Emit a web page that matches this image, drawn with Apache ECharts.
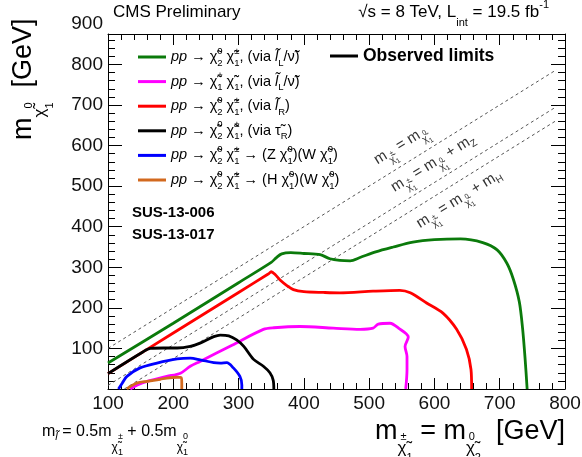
<!DOCTYPE html>
<html><head><meta charset="utf-8">
<script src="https://cdn.jsdelivr.net/npm/echarts@6/dist/echarts.min.js"></script>
<style>html,body{margin:0;padding:0;background:#fff}#c{width:582px;height:457px}</style>
</head><body><div id="c"></div>
<script>
const F = 'Liberation Sans';
const X = 'χ\u0303';

// ---------------- data (GeV) ----------------
const xRange = [100, 800];
const yRange = [0, 875];
const tickInterval = 100;
const extraYTickLabels = [900];

const limitSlepL_N2C1 = [[100,64],[200,162],[300,262],[350,312],[358,324],[366,333],[380,336],[400,334],[425,331],[440,321],[455,317],[471,316],[486,324],[510,338],[537,350],[567,362],[600,368],[640,370],[674,361],[696,343],[711,310],[721,270],[730,215],[735,150],[739,72],[742,0]];
const limitSlepL_C1C1 = [[134,0],[145,10],[160,19],[190,31],[211,39],[226,56],[241,68],[290,108],[338,147],[354,151],[394,154],[445,150],[486,147],[506,150],[514,160],[532,162],[545,150],[560,128],[555,105],[558,80],[558,47],[556,0]];
const limitSlepR_N2C1 = [[100,38],[200,138],[300,238],[346,284],[350,289],[356,282],[364,268],[374,255],[384,245],[400,240],[430,238],[455,237],[506,241],[547,243],[563,237],[588,212],[613,187],[634,147],[649,98],[656,48],[657,0]];
const limitStau_N2C1 = [[100,38],[154,92],[165,100],[185,101],[206,101],[226,105],[241,113],[262,129],[272,133],[285,131],[297,121],[308,105],[323,73],[338,56],[348,40],[353,22],[354,0]];
const limitWZ = [[116,0],[122,15],[129,31],[149,52],[175,64],[206,74],[226,76],[241,72],[262,65],[272,64],[282,65],[292,52],[302,31],[305,10],[305,0]];
const limitWH = [[129,0],[134,6],[145,15],[160,19],[180,24],[190,27],[206,29],[212,28],[213,15],[213,0]];

const diagEqual = [[100,100],[787,787]];
const diagZ = [[100,9],[787,696]];
const diagH = [[125,0],[787,662]];

const seriesNames = ['n2c1_slepL','c1c1_slepL','n2c1_slepR','n2c1_stau','n2c1_WZ','n2c1_WH'];
const seriesColors = ['#0b7a0b','#ff00ff','#ff0000','#000000','#0000ff','#d2691e'];
const seriesData = [limitSlepL_N2C1, limitSlepL_C1C1, limitSlepR_N2C1, limitStau_N2C1, limitWZ, limitWH];
const seriesZ = [6, 3, 4, 5, 3, 3];

const legendLabels = {
  n2c1_slepL: `{i|pp} → ${X}{pz|0}{sb|2} ${X}{pz|±}{sb|1}, (via {i|l\u0303}{sb|L}/ν\u0303)`,
  c1c1_slepL: `{i|pp} → ${X}{pz|+}{sb|1} ${X}{pz|-}{sb|1}, (via {i|l\u0303}{sb|L}/ν\u0303)`,
  n2c1_slepR: `{i|pp} → ${X}{pz|0}{sb|2} ${X}{pz|±}{sb|1}, (via {i|l\u0303}{sb|R})`,
  n2c1_stau:  `{i|pp} → ${X}{pz|0}{sb|2} ${X}{pz|±}{sb|1}, (via τ\u0303{sb|R})`,
  n2c1_WZ:    `{i|pp} → ${X}{pz|0}{sb|2} ${X}{pz|±}{sb|1} → (Z ${X}{pz|0}{sb|1})(W ${X}{pz|0}{sb|1})`,
  n2c1_WH:    `{i|pp} → ${X}{pz|0}{sb|2} ${X}{pz|±}{sb|1} → (H ${X}{pz|0}{sb|1})(W ${X}{pz|0}{sb|1})`
};

// --------------- helpers ---------------
// rich token shifted vertically by d px (positive = down) from the main line centre (line height L)
function off(size, d, L, extra) {
  const s = {fontFamily: F, fontSize: size, lineHeight: L, fill: '#000', color: '#000'};
  if (d <= 0) { s.verticalAlign = 'top'; s.height = L + 2 * d; }
  else { s.verticalAlign = 'bottom'; s.height = L - 2 * d; }
  return Object.assign(s, extra || {});
}

const chart = echarts.init(document.getElementById('c'), null, {renderer: 'canvas'});

function xAxisDef(pos, showLabel) {
  return {
    type: 'value', position: pos, min: xRange[0], max: xRange[1], interval: tickInterval,
    axisLine: {show: true, onZero: false, lineStyle: {color: '#000', width: 1}},
    axisTick: {show: true, inside: true, length: 11, lineStyle: {color: '#000', width: 1}},
    minorTick: {show: true, splitNumber: 5, length: 6, lineStyle: {color: '#000', width: 1}},
    splitLine: {show: false}, minorSplitLine: {show: false},
    axisLabel: {show: showLabel, fontFamily: F, fontSize: 19, color: '#111', margin: 5}
  };
}
function yAxisDef(pos, showLabel) {
  return {
    type: 'value', position: pos, min: yRange[0], max: yRange[1], interval: tickInterval,
    axisLine: {show: true, onZero: false, lineStyle: {color: '#000', width: 1}},
    axisTick: {show: true, inside: true, length: 14, lineStyle: {color: '#000', width: 1}},
    minorTick: {show: true, splitNumber: 5, length: 7, lineStyle: {color: '#000', width: 1}},
    splitLine: {show: false}, minorSplitLine: {show: false},
    axisLabel: {show: showLabel, fontFamily: F, fontSize: 19, color: '#111', margin: 5, showMinLabel: false, showMaxLabel: false}
  };
}

const series = seriesNames.map((n, i) => ({
  type: 'line', name: n, data: seriesData[i], showSymbol: false, symbol: 'none',
  smooth: 0.3, z: seriesZ[i], color: seriesColors[i],
  lineStyle: {color: seriesColors[i], width: 2.8}, itemStyle: {color: seriesColors[i]},
  xAxisIndex: 0, yAxisIndex: 0, silent: true
}));
[diagEqual, diagZ, diagH].forEach((d, i) => series.push({
  type: 'line', name: 'diag' + i, data: d, showSymbol: false, symbol: 'none', z: 1,
  lineStyle: {color: '#555', width: 1, type: [3, 3]}, xAxisIndex: 0, yAxisIndex: 0, silent: true
}));
series.push({type: 'line', name: 'Observed limits', data: [], color: '#000',
  lineStyle: {color: '#000'}, itemStyle: {color: '#000'}, xAxisIndex: 0, yAxisIndex: 0});

const legRich = {
  i:  {fontFamily: F, fontSize: 14.5, fontStyle: 'italic', color: '#000', lineHeight: 20},
  pz: off(9.5, -6, 20, {width: 0.01}),
  sb: off(9.5, 6, 20)
};

chart.setOption({
  animation: false,
  grid: {left: 108, right: 17, top: 34, bottom: 68, outerBoundsMode: 'none', containLabel: false},
  xAxis: [xAxisDef('bottom', true), xAxisDef('top', false)],
  yAxis: [yAxisDef('left', true), yAxisDef('right', false)],
  legend: [{
    data: seriesNames, left: 133, top: 41, orient: 'vertical', itemGap: 2.6,
    itemWidth: 28, itemHeight: 3, icon: 'rect', selectedMode: false,
    formatter: n => legendLabels[n],
    textStyle: {fontFamily: F, fontSize: 14.5, lineHeight: 20, color: '#000', rich: legRich}
  }, {
    data: ['Observed limits'], left: 325, top: 41, itemWidth: 28, itemHeight: 3, icon: 'rect',
    selectedMode: false,
    textStyle: {fontFamily: F, fontSize: 17.5, fontWeight: 'bold', lineHeight: 20, color: '#000'}
  }],
  series: series
});

// ---------------- annotations ----------------
const p0 = chart.convertToPixel({xAxisIndex: 0, yAxisIndex: 0}, diagEqual[0]);
const p1 = chart.convertToPixel({xAxisIndex: 0, yAxisIndex: 0}, diagEqual[1]);
const ang = Math.atan2(p0[1] - p1[1], p1[0] - p0[0]);

function txt(x, y, text, style, rot) {
  return {type: 'text', x: x, y: y, rotation: rot || 0, silent: true,
    style: Object.assign({text: text, fontFamily: F, fill: '#000'}, style)};
}

const titleRich = {q: off(11, 11, 30), p: off(11, -7, 30)};
const axRich = {
  c: off(17, 16, 60), pz: off(11, 5, 60, {width: 0.01}), q: off(11, 26, 60)
};
const diagRich = {
  c: off(10, 8, 30, {fill: '#333'}), pz: off(7, 2, 30, {width: 0.01, fill: '#333'}),
  q: off(7, 12, 30, {fill: '#333'}), z: off(10, 5, 30, {fill: '#333'})
};
const noteRich = {
  s1: off(11, 5, 50, {fontStyle: 'italic'}), c: off(12, 16, 50), pz: off(9, 5, 50, {width: 0.01}), q: off(9, 21, 50)
};

const graphics = [
  txt(113, 12, 'CMS Preliminary', {fontSize: 17, align: 'left', verticalAlign: 'middle'}),
  txt(549, 12, '√s = 8 TeV, L{q|int} = 19.5 fb{p|-1}', {fontSize: 17, lineHeight: 30, align: 'right', verticalAlign: 'middle', rich: titleRich}),
  txt(132, 213, 'SUS-13-006', {fontSize: 15, fontWeight: 'bold', align: 'left', verticalAlign: 'middle'}),
  txt(132, 235, 'SUS-13-017', {fontSize: 15, fontWeight: 'bold', align: 'left', verticalAlign: 'middle'}),
  txt(565, 432, `m{c|${X}}{pz|±}{q|1} = m{c|${X}}{pz|0}{q|2}  [GeV]`, {fontSize: 27, lineHeight: 60, align: 'right', verticalAlign: 'middle', rich: axRich}),
  txt(24, 140, `m{c|${X}}{pz|0}{q|1}  [GeV]`, {fontSize: 27, lineHeight: 60, align: 'left', verticalAlign: 'middle', rich: axRich}, Math.PI / 2),
  txt(42, 432, `m{s1|l\u0303} = 0.5m{c|${X}}{pz|±}{q|1} + 0.5m{c|${X}}{pz|0}{q|1}`, {fontSize: 16, lineHeight: 50, align: 'left', verticalAlign: 'middle', rich: noteRich}),
  txt(401, 145, `m{c|${X}}{pz|±}{q|1} = m{c|${X}}{pz|0}{q|1}`, {fontSize: 15, lineHeight: 30, fill: '#333', align: 'center', verticalAlign: 'middle', rich: diagRich}, ang),
  txt(433, 163, `m{c|${X}}{pz|±}{q|1} = m{c|${X}}{pz|0}{q|1} + m{z|Z}`, {fontSize: 15, lineHeight: 30, fill: '#333', align: 'center', verticalAlign: 'middle', rich: diagRich}, ang),
  txt(459, 199, `m{c|${X}}{pz|±}{q|1} = m{c|${X}}{pz|0}{q|1} + m{z|H}`, {fontSize: 15, lineHeight: 30, fill: '#333', align: 'center', verticalAlign: 'middle', rich: diagRich}, ang)
];
extraYTickLabels.forEach(v => {
  const py = chart.convertToPixel({yAxisIndex: 0}, v);
  graphics.push(txt(103, py, String(v), {fontSize: 19, fill: '#111', align: 'right', verticalAlign: 'middle'}));
});
chart.setOption({graphic: graphics});
</script></body></html>
